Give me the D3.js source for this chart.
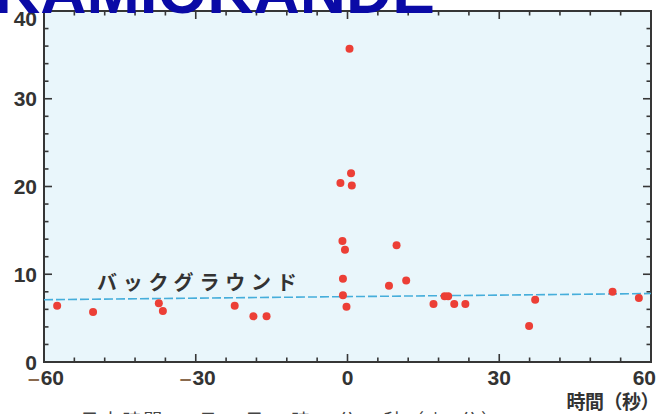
<!DOCTYPE html>
<html>
<head>
<meta charset="utf-8">
<script src="https://cdn.jsdelivr.net/npm/d3@7"></script>
<style>
  html, body { margin: 0; padding: 0; background: #ffffff; overflow: hidden; }
  svg { display: block; }
</style>
</head>
<body>
<svg id="chart" width="661" height="414"></svg>
<script>
// Event times (seconds, relative to burst) and counts per bin
const eventTime = [-57.4, -50.3, -37.3, -36.5, -22.3, -18.6, -16.0,
  0.4, 0.7, -1.4, 0.85, -1.0, -0.5, 9.7, -0.9, 8.2, 11.6, -0.9, -0.2,
  17.0, 19.2, 19.9, 21.1, 23.3, 35.9, 37.1, 52.4, 57.6];
const eventValue = [6.4, 5.7, 6.7, 5.8, 6.4, 5.2, 5.2,
  35.7, 21.5, 20.4, 20.1, 13.8, 12.8, 13.3, 9.5, 8.7, 9.3, 7.6, 6.3,
  6.6, 7.5, 7.5, 6.6, 6.6, 4.1, 7.1, 8.0, 7.3];

// Background level across the window
const bgTime = [-60, 60];
const bgLevel = [7.1, 7.8];

const xTicks = [-60, -30, 0, 30, 60];
const yTicks = [0, 10, 20, 30, 40];
const xMinor = d3.range(-60, 61, 6);
const yMinor = d3.range(0, 41, 2);

const titleText = "KAMIOKANDE";
const bgLabel = "バックグラウンド";
const xTitle = "時間（秒）";
const caption = "日本時間　2月23日16時35分35秒（±1分）";

const svg = d3.select("#chart");
const L = 44, R = 651, T = 11, B = 362;

const x = d3.scaleLinear().domain([-60, 60]).range([L, R]);
const y = d3.scaleLinear().domain([0, 40]).range([B, T]);

const axisColor = "#363636";
const labelFont = "'Liberation Sans', Arial, sans-serif";

// plot background
svg.append("rect")
  .attr("x", L).attr("y", T)
  .attr("width", R - L).attr("height", B - T)
  .attr("fill", "#e9f6fb");

// frame with inward ticks on all four sides
function tickLen(major) { return major ? 8 : 4.5; }
const g = svg.append("g").attr("stroke", axisColor).attr("fill", "none");

xMinor.forEach(v => {
  const major = v % 30 === 0;
  const len = tickLen(major);
  g.append("line").attr("x1", x(v)).attr("x2", x(v)).attr("y1", B).attr("y2", B - len).attr("stroke-width", 1.6);
  g.append("line").attr("x1", x(v)).attr("x2", x(v)).attr("y1", T).attr("y2", T + len).attr("stroke-width", 1.6);
});
yMinor.forEach(v => {
  const major = v % 10 === 0;
  const len = tickLen(major);
  g.append("line").attr("y1", y(v)).attr("y2", y(v)).attr("x1", L).attr("x2", L + len).attr("stroke-width", 1.6);
  g.append("line").attr("y1", y(v)).attr("y2", y(v)).attr("x1", R).attr("x2", R - len).attr("stroke-width", 1.6);
});

g.append("rect")
  .attr("x", L).attr("y", T)
  .attr("width", R - L).attr("height", B - T)
  .attr("stroke-width", 2);

// background level, dashed
svg.append("line")
  .attr("x1", x(bgTime[0])).attr("y1", y(bgLevel[0]))
  .attr("x2", x(bgTime[1])).attr("y2", y(bgLevel[1]))
  .attr("stroke", "#46aedb")
  .attr("stroke-width", 1.6)
  .attr("stroke-dasharray", "9,3");

svg.append("text")
  .attr("x", 97).attr("y", 290)
  .attr("font-family", "'Noto Sans CJK JP', sans-serif")
  .attr("font-weight", "bold")
  .attr("font-size", 20)
  .attr("letter-spacing", 5.8)
  .attr("fill", "#333333")
  .text(bgLabel);

// events
svg.append("g").selectAll("circle")
  .data(eventTime.map((t, i) => ({ t, v: eventValue[i] })))
  .join("circle")
  .attr("cx", d => x(d.t))
  .attr("cy", d => y(d.v))
  .attr("r", 4)
  .attr("fill", "#ec3f36");

// y tick labels
svg.append("g").selectAll("text")
  .data(yTicks)
  .join("text")
  .attr("x", 37)
  .attr("y", d => y(d) + (d === 40 ? 7 : 0))
  .attr("dy", "0.36em")
  .attr("text-anchor", "end")
  .attr("font-family", labelFont)
  .attr("font-weight", "bold")
  .attr("font-size", 21)
  .attr("fill", "#333333")
  .text(d => d);

// x tick labels (minus drawn as a separate dash)
const xl = svg.append("g");
xTicks.forEach(v => {
  const t = xl.append("text")
    .attr("x", v === 60 ? 656 : x(v) + (v < 0 ? 2 : 0))
    .attr("y", 385)
    .attr("text-anchor", v === 60 ? "end" : "middle")
    .attr("font-family", labelFont)
    .attr("font-weight", "bold")
    .attr("font-size", 21)
    .attr("fill", "#333333");
  if (v < 0) {
    t.append("tspan").attr("fill", "#8a6a4e").text("\u2013");
    t.append("tspan").attr("dx", 1).text(Math.abs(v));
  } else {
    t.text(v);
  }
});

svg.append("text")
  .attr("x", 659).attr("y", 409)
  .attr("text-anchor", "end")
  .attr("font-family", "'Noto Sans CJK JP', sans-serif")
  .attr("font-weight", "bold")
  .attr("font-size", 19)
  .attr("letter-spacing", -0.5)
  .attr("fill", "#333333")
  .text(xTitle);

svg.append("text")
  .attr("x", 80).attr("y", 428)
  .attr("font-family", "'Noto Sans CJK JP', sans-serif")
  .attr("font-size", 19)
  .attr("fill", "#444444")
  .attr("textLength", 420)
  .attr("lengthAdjust", "spacing")
  .text(caption);

// title
svg.append("text")
  .attr("x", -6).attr("y", 13)
  .attr("font-family", labelFont)
  .attr("font-weight", "bold")
  .attr("font-size", 64)
  .attr("fill", "#0a0aa6")
  .text(titleText);
</script>
</body>
</html>
